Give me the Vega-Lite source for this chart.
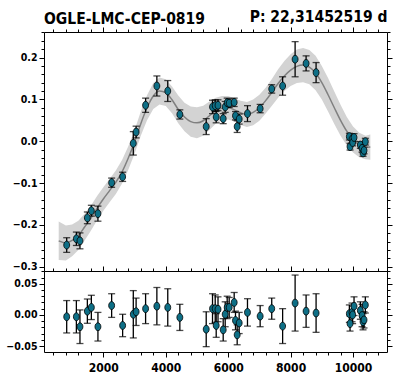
{
  "$schema": "https://vega.github.io/schema/vega-lite/v6.json",
  "bounds": "flush",
  "spacing": 0,
  "padding": {"left": 5, "top": 9, "right": 5, "bottom": 5},
  "config": {
    "font": "DejaVu Sans Condensed",
    "view": {"stroke": "black", "strokeWidth": 1},
    "axis": {"domain": false, "grid": false, "tickColor": "black", "tickWidth": 1, "labelColor": "black", "labelFontWeight": "bold", "labelFont": "DejaVu Sans Condensed", "titleFont": "DejaVu Sans Condensed", "titleColor": "black"},
    "title": {"font": "DejaVu Sans Condensed", "color": "black"}
  },
  "datasets": {
    "pts": [
      {"x": 826, "y": -0.248, "err": 0.0175, "r": -0.003, "rerr": 0.026},
      {"x": 1136, "y": -0.233, "err": 0.016, "r": -0.003, "rerr": 0.026},
      {"x": 1251, "y": -0.238, "err": 0.019, "r": -0.019, "rerr": 0.027},
      {"x": 1488, "y": -0.183, "err": 0.014, "r": 0.006, "rerr": 0.0195},
      {"x": 1616, "y": -0.166, "err": 0.013, "r": 0.012, "rerr": 0.0195},
      {"x": 1827, "y": -0.173, "err": 0.018, "r": -0.019, "rerr": 0.023},
      {"x": 2266, "y": -0.099, "err": 0.011, "r": 0.015, "rerr": 0.019},
      {"x": 2618, "y": -0.085, "err": 0.011, "r": -0.017, "rerr": 0.018},
      {"x": 2960, "y": -0.005, "err": 0.028, "r": 0.001, "rerr": 0.038},
      {"x": 3050, "y": 0.022, "err": 0.014, "r": 0.005, "rerr": 0.022},
      {"x": 3354, "y": 0.086, "err": 0.017, "r": 0.010, "rerr": 0.024},
      {"x": 3715, "y": 0.132, "err": 0.024, "r": 0.014, "rerr": 0.030},
      {"x": 4064, "y": 0.120, "err": 0.025, "r": 0.012, "rerr": 0.030},
      {"x": 4451, "y": 0.064, "err": 0.011, "r": -0.004, "rerr": 0.021},
      {"x": 5296, "y": 0.035, "err": 0.019, "r": -0.023, "rerr": 0.028},
      {"x": 5498, "y": 0.082, "err": 0.016, "r": 0.010, "rerr": 0.024},
      {"x": 5584, "y": 0.085, "err": 0.014, "r": 0.010, "rerr": 0.022},
      {"x": 5616, "y": 0.058, "err": 0.014, "r": -0.017, "rerr": 0.019},
      {"x": 5674, "y": 0.086, "err": 0.013, "r": 0.009, "rerr": 0.020},
      {"x": 5840, "y": 0.054, "err": 0.012, "r": -0.024, "rerr": 0.018},
      {"x": 5904, "y": 0.082, "err": 0.013, "r": 0.001, "rerr": 0.020},
      {"x": 5968, "y": 0.092, "err": 0.011, "r": 0.012, "rerr": 0.018},
      {"x": 6032, "y": 0.091, "err": 0.010, "r": 0.012, "rerr": 0.016},
      {"x": 6192, "y": 0.093, "err": 0.010, "r": 0.020, "rerr": 0.016},
      {"x": 6234, "y": 0.061, "err": 0.010, "r": -0.009, "rerr": 0.015},
      {"x": 6288, "y": 0.035, "err": 0.014, "r": -0.032, "rerr": 0.016},
      {"x": 6352, "y": 0.053, "err": 0.012, "r": -0.013, "rerr": 0.017},
      {"x": 6618, "y": 0.066, "err": 0.019, "r": 0.004, "rerr": 0.022},
      {"x": 7024, "y": 0.078, "err": 0.010, "r": -0.002, "rerr": 0.017},
      {"x": 7395, "y": 0.125, "err": 0.010, "r": 0.010, "rerr": 0.017},
      {"x": 7744, "y": 0.132, "err": 0.022, "r": -0.018, "rerr": 0.028},
      {"x": 8144, "y": 0.196, "err": 0.042, "r": 0.019, "rerr": 0.045},
      {"x": 8496, "y": 0.186, "err": 0.018, "r": 0.006, "rerr": 0.026},
      {"x": 8816, "y": 0.164, "err": 0.024, "r": 0.003, "rerr": 0.031},
      {"x": 9882, "y": 0.011, "err": 0.008, "r": 0.002, "rerr": 0.014},
      {"x": 9904, "y": -0.013, "err": 0.008, "r": -0.014, "rerr": 0.012},
      {"x": 9968, "y": 0.005, "err": 0.008, "r": 0.004, "rerr": 0.015},
      {"x": 9987, "y": -0.003, "err": 0.008, "r": 0.000, "rerr": 0.014},
      {"x": 10032, "y": 0.009, "err": 0.009, "r": 0.014, "rerr": 0.015},
      {"x": 10234, "y": -0.009, "err": 0.008, "r": 0.007, "rerr": 0.014},
      {"x": 10288, "y": -0.017, "err": 0.009, "r": -0.001, "rerr": 0.018},
      {"x": 10320, "y": -0.028, "err": 0.008, "r": -0.011, "rerr": 0.013},
      {"x": 10352, "y": -0.022, "err": 0.008, "r": -0.008, "rerr": 0.013},
      {"x": 10394, "y": -0.001, "err": 0.008, "r": 0.016, "rerr": 0.013}
    ],
    "curve": [
      {"x": 570, "y": -0.238, "lo": -0.284, "hi": -0.192},
      {"x": 800, "y": -0.243, "lo": -0.285, "hi": -0.201},
      {"x": 1000, "y": -0.237, "lo": -0.275, "hi": -0.199},
      {"x": 1200, "y": -0.225, "lo": -0.260, "hi": -0.190},
      {"x": 1400, "y": -0.205, "lo": -0.237, "hi": -0.173},
      {"x": 1600, "y": -0.184, "lo": -0.214, "hi": -0.154},
      {"x": 1800, "y": -0.160, "lo": -0.189, "hi": -0.131},
      {"x": 2000, "y": -0.138, "lo": -0.166, "hi": -0.110},
      {"x": 2200, "y": -0.118, "lo": -0.146, "hi": -0.090},
      {"x": 2400, "y": -0.098, "lo": -0.126, "hi": -0.070},
      {"x": 2600, "y": -0.073, "lo": -0.101, "hi": -0.045},
      {"x": 2800, "y": -0.040, "lo": -0.068, "hi": -0.012},
      {"x": 3000, "y": -0.002, "lo": -0.030, "hi": 0.026},
      {"x": 3200, "y": 0.042, "lo": 0.013, "hi": 0.071},
      {"x": 3400, "y": 0.080, "lo": 0.050, "hi": 0.110},
      {"x": 3600, "y": 0.108, "lo": 0.077, "hi": 0.139},
      {"x": 3800, "y": 0.120, "lo": 0.088, "hi": 0.152},
      {"x": 4000, "y": 0.116, "lo": 0.084, "hi": 0.148},
      {"x": 4200, "y": 0.099, "lo": 0.067, "hi": 0.131},
      {"x": 4400, "y": 0.076, "lo": 0.043, "hi": 0.109},
      {"x": 4600, "y": 0.058, "lo": 0.024, "hi": 0.092},
      {"x": 4800, "y": 0.047, "lo": 0.011, "hi": 0.083},
      {"x": 5000, "y": 0.044, "lo": 0.007, "hi": 0.081},
      {"x": 5200, "y": 0.049, "lo": 0.013, "hi": 0.085},
      {"x": 5400, "y": 0.061, "lo": 0.027, "hi": 0.095},
      {"x": 5600, "y": 0.073, "lo": 0.042, "hi": 0.104},
      {"x": 5800, "y": 0.079, "lo": 0.050, "hi": 0.108},
      {"x": 6000, "y": 0.080, "lo": 0.052, "hi": 0.108},
      {"x": 6200, "y": 0.075, "lo": 0.047, "hi": 0.103},
      {"x": 6400, "y": 0.068, "lo": 0.039, "hi": 0.097},
      {"x": 6600, "y": 0.064, "lo": 0.034, "hi": 0.094},
      {"x": 6800, "y": 0.069, "lo": 0.038, "hi": 0.100},
      {"x": 7000, "y": 0.080, "lo": 0.049, "hi": 0.111},
      {"x": 7200, "y": 0.097, "lo": 0.066, "hi": 0.128},
      {"x": 7400, "y": 0.117, "lo": 0.085, "hi": 0.149},
      {"x": 7600, "y": 0.138, "lo": 0.104, "hi": 0.172},
      {"x": 7800, "y": 0.156, "lo": 0.120, "hi": 0.192},
      {"x": 8000, "y": 0.170, "lo": 0.132, "hi": 0.208},
      {"x": 8200, "y": 0.179, "lo": 0.139, "hi": 0.219},
      {"x": 8400, "y": 0.182, "lo": 0.141, "hi": 0.223},
      {"x": 8600, "y": 0.177, "lo": 0.136, "hi": 0.218},
      {"x": 8800, "y": 0.163, "lo": 0.122, "hi": 0.204},
      {"x": 9000, "y": 0.140, "lo": 0.100, "hi": 0.180},
      {"x": 9200, "y": 0.111, "lo": 0.071, "hi": 0.151},
      {"x": 9400, "y": 0.080, "lo": 0.041, "hi": 0.119},
      {"x": 9600, "y": 0.050, "lo": 0.013, "hi": 0.087},
      {"x": 9800, "y": 0.024, "lo": -0.010, "hi": 0.058},
      {"x": 10000, "y": 0.004, "lo": -0.027, "hi": 0.035},
      {"x": 10200, "y": -0.009, "lo": -0.038, "hi": 0.020},
      {"x": 10400, "y": -0.015, "lo": -0.043, "hi": 0.013},
      {"x": 10554, "y": -0.014, "lo": -0.044, "hi": 0.016}
    ]
  },
  "vconcat": [
    {
      "width": 343,
      "height": 239,
      "title": {"text": "OGLE-LMC-CEP-0819", "anchor": "start", "frame": "group", "fontSize": 15.5, "fontWeight": "bold", "offset": 0, "dy": 18},
      "layer": [
        {
          "data": {"name": "curve"},
          "mark": {"type": "area", "color": "#d3d3d3", "opacity": 1},
          "encoding": {
            "x": {"field": "x", "type": "quantitative", "scale": {"domain": [99, 11088], "nice": false, "zero": false}, "axis": null},
            "y": {"field": "lo", "type": "quantitative", "scale": {"domain": [-0.31, 0.261], "nice": false, "zero": false}, "axis": null},
            "y2": {"field": "hi"}
          }
        },
        {
          "data": {"name": "curve"},
          "mark": {"type": "line", "color": "#808080", "strokeWidth": 1.5, "interpolate": "monotone"},
          "encoding": {
            "x": {"field": "x", "type": "quantitative", "axis": null},
            "y": {"field": "y", "type": "quantitative", "axis": null}
          }
        },
        {
          "data": {"name": "pts"},
          "mark": {"type": "errorbar", "color": "black", "thickness": 1.3, "ticks": {"size": 7, "thickness": 1.3}},
          "encoding": {
            "x": {"field": "x", "type": "quantitative", "axis": null},
            "y": {"field": "y", "type": "quantitative", "axis": null},
            "yError": {"field": "err"}
          }
        },
        {
          "data": {"name": "pts"},
          "mark": {"type": "point", "shape": "M0,-1A0.75,1,0,1,1,0,1A0.75,1,0,1,1,0,-1Z", "filled": true, "fill": "#0e6f86", "stroke": "black", "strokeWidth": 0.8, "size": 62, "opacity": 1},
          "encoding": {
            "x": {"field": "x", "type": "quantitative", "axis": {"orient": "top", "values": [400,800,1200,1600,2000,2400,2800,3200,3600,4000,4400,4800,5200,5600,6000,6400,6800,7200,7600,8000,8400,8800,9200,9600,10000,10400,10800], "labels": false, "tickSize": {"condition": {"test": "datum.value % 2000 === 0", "value": 5}, "value": 3}, "title": "P: 22,31452519 d", "titleAnchor": "end", "titleFontSize": 15.5, "titleFontWeight": "bold", "titlePadding": 2}},
            "y": {"field": "y", "type": "quantitative", "axis": {"orient": "left", "values": [-0.3,-0.28,-0.26,-0.24,-0.22,-0.2,-0.18,-0.16,-0.14,-0.12,-0.1,-0.08,-0.06,-0.04,-0.02,0,0.02,0.04,0.06,0.08,0.1,0.12,0.14,0.16,0.18,0.2,0.22,0.24,0.26], "labelExpr": "abs(datum.value*10 - round(datum.value*10)) < 0.0001 ? format(datum.value, '.1f') : ''", "labelFontSize": 10.5, "labelPadding": 2, "tickSize": {"condition": {"test": "abs(datum.value*10 - round(datum.value*10)) < 0.0001", "value": 5}, "value": 3}, "title": null}}
          }
        },
        {
          "data": {"name": "pts"},
          "mark": {"type": "point", "opacity": 0},
          "encoding": {
            "x": {"field": "x", "type": "quantitative", "axis": null},
            "y": {"field": "y", "type": "quantitative", "axis": {"orient": "right", "values": [-0.3,-0.28,-0.26,-0.24,-0.22,-0.2,-0.18,-0.16,-0.14,-0.12,-0.1,-0.08,-0.06,-0.04,-0.02,0,0.02,0.04,0.06,0.08,0.1,0.12,0.14,0.16,0.18,0.2,0.22,0.24,0.26], "labels": false, "tickSize": {"condition": {"test": "abs(datum.value*10 - round(datum.value*10)) < 0.0001", "value": 5}, "value": 3}, "title": null}}
          }
        }
      ],
      "resolve": {"axis": {"x": "independent", "y": "independent"}}
    },
    {
      "width": 343,
      "height": 81,
      "layer": [
        {
          "mark": {"type": "rule", "color": "#555555", "strokeDash": [3, 2], "strokeWidth": 1},
          "encoding": {
            "y": {"datum": 0, "type": "quantitative", "scale": {"domain": [-0.0596, 0.0705], "nice": false, "zero": false}, "axis": null}
          }
        },
        {
          "data": {"name": "pts"},
          "mark": {"type": "errorbar", "color": "black", "thickness": 1.3, "ticks": {"size": 7, "thickness": 1.3}},
          "encoding": {
            "x": {"field": "x", "type": "quantitative", "scale": {"domain": [99, 11088], "nice": false, "zero": false}, "axis": null},
            "y": {"field": "r", "type": "quantitative", "axis": null},
            "yError": {"field": "rerr"}
          }
        },
        {
          "data": {"name": "pts"},
          "mark": {"type": "point", "shape": "M0,-1A0.75,1,0,1,1,0,1A0.75,1,0,1,1,0,-1Z", "filled": true, "fill": "#0e6f86", "stroke": "black", "strokeWidth": 0.8, "size": 62, "opacity": 1},
          "encoding": {
            "x": {"field": "x", "type": "quantitative", "axis": {"orient": "bottom", "values": [400,800,1200,1600,2000,2400,2800,3200,3600,4000,4400,4800,5200,5600,6000,6400,6800,7200,7600,8000,8400,8800,9200,9600,10000,10400,10800], "labelExpr": "datum.value % 2000 === 0 ? format(datum.value, 'd') : ''", "labelFontSize": 12, "labelPadding": 5, "tickSize": {"condition": {"test": "datum.value % 2000 === 0", "value": 5}, "value": 3}, "title": null}},
            "y": {"field": "r", "type": "quantitative", "axis": {"orient": "left", "values": [-0.05,-0.04,-0.03,-0.02,-0.01,0,0.01,0.02,0.03,0.04,0.05,0.06,0.07], "labelExpr": "abs(datum.value*20 - round(datum.value*20)) < 0.0001 ? format(datum.value, '.2f') : ''", "labelFontSize": 10.5, "labelPadding": 2, "tickSize": {"condition": {"test": "abs(datum.value*20 - round(datum.value*20)) < 0.0001", "value": 5}, "value": 3}, "title": null}}
          }
        },
        {
          "data": {"name": "pts"},
          "mark": {"type": "point", "opacity": 0},
          "encoding": {
            "x": {"field": "x", "type": "quantitative", "axis": {"orient": "top", "values": [400,800,1200,1600,2000,2400,2800,3200,3600,4000,4400,4800,5200,5600,6000,6400,6800,7200,7600,8000,8400,8800,9200,9600,10000,10400,10800], "labels": false, "tickSize": {"condition": {"test": "datum.value % 2000 === 0", "value": 5}, "value": 3}, "title": null}},
            "y": {"field": "r", "type": "quantitative", "axis": {"orient": "right", "values": [-0.05,-0.04,-0.03,-0.02,-0.01,0,0.01,0.02,0.03,0.04,0.05,0.06,0.07], "labels": false, "tickSize": {"condition": {"test": "abs(datum.value*20 - round(datum.value*20)) < 0.0001", "value": 5}, "value": 3}, "title": null}}
          }
        }
      ],
      "resolve": {"axis": {"x": "independent", "y": "independent"}}
    }
  ]
}
